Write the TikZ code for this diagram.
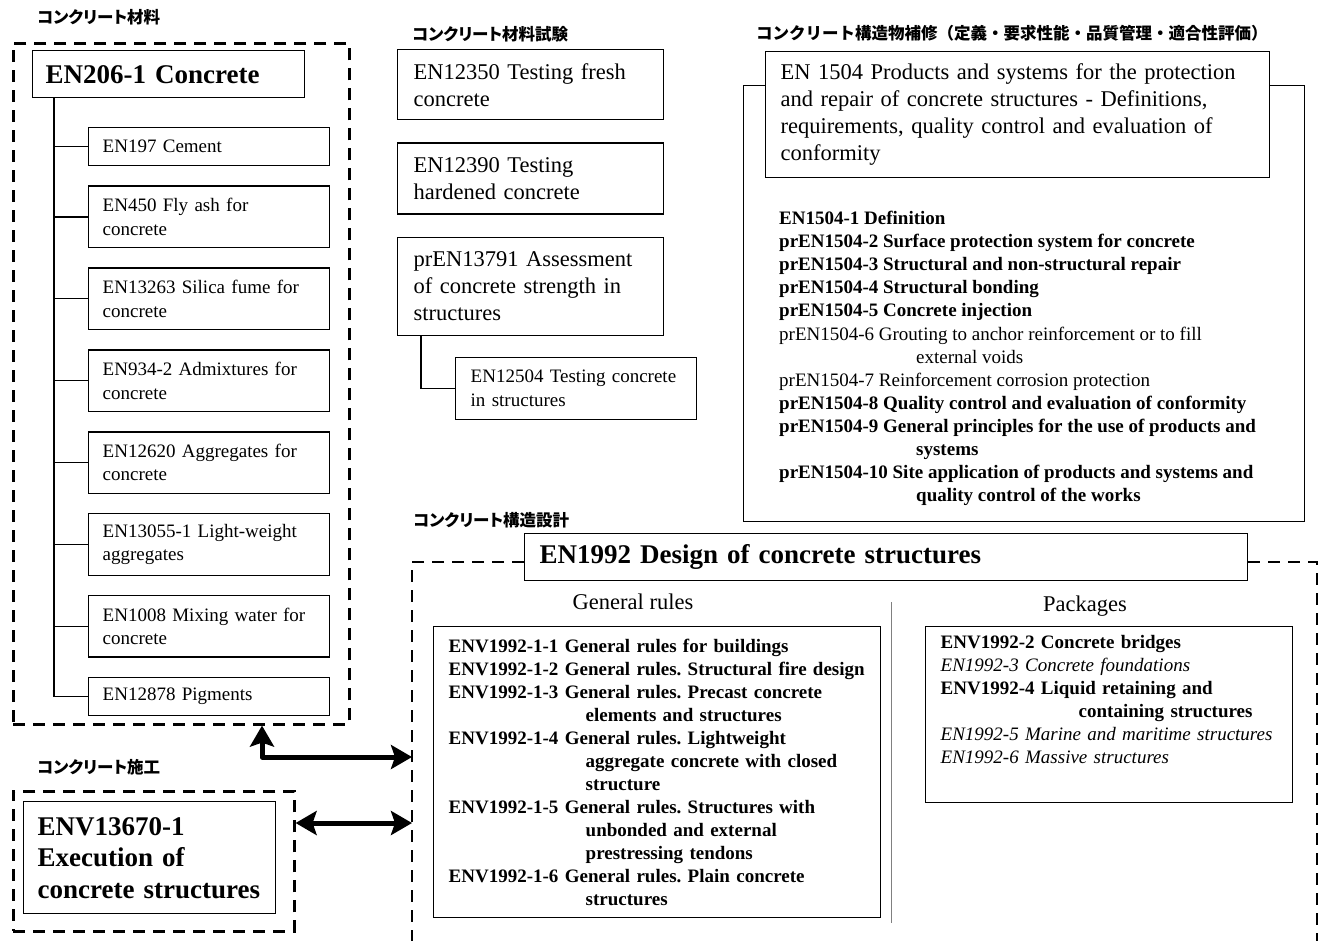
\documentclass[tikz,border=0pt]{standalone}
\usepackage{fontspec}
\setmainfont{Liberation Serif}
\newfontfamily\jpfont{Noto Sans CJK JP}
\newfontfamily\jppfont[RawFeature=+palt]{Noto Sans CJK JP}
\usepackage{tikz}
\usetikzlibrary{arrows.meta, positioning}
\frenchspacing
\hyphenpenalty=10000
\exhyphenpenalty=10000

\begin{document}
\begin{tikzpicture}[x=1pt, y=-1pt, node distance=19pt]
        \tikzstyle{groupbox} = [draw, line width=2.6pt, dash pattern=on 12pt off 8pt]
        \tikzstyle{titlebox} = [draw, line width=1.4pt, anchor=north west, align=left, inner xsep=13pt, inner ysep=3pt, font=\fontsize{27}{31.5}\selectfont\bfseries]
        \tikzstyle{itembox} = [draw, line width=1.4pt, anchor=north west, align=left, text width=213pt, inner xsep=14pt, inner ysep=3pt, minimum height=61.5pt, font=\fontsize{19}{23.5}\selectfont]
        \tikzstyle{testbox} = [draw, line width=1.4pt, anchor=north west, align=left, text width=234pt, inner xsep=16pt, inner ysep=3pt, font=\fontsize{22.5}{27}\selectfont]
        \tikzstyle{listbox} = [draw, line width=1.4pt, anchor=north west, align=left, inner xsep=15pt, inner ysep=3pt, font=\fontsize{19}{23}\selectfont]
        \tikzstyle{headtext} = [inner sep=0pt, font=\fontsize{22.5}{27}\selectfont]
        \tikzstyle{jplabel} = [anchor=west, inner sep=0pt, font=\jppfont\bfseries\fontsize{16.5}{18}\selectfont]
        \tikzstyle{branch} = [line width=1.3pt]
        \tikzstyle{divider} = [line width=1pt, gray]
        \tikzstyle{bigarrow} = [line width=5pt, line join=round, {Stealth[length=21pt,width=24pt,inset=4pt]}-{Stealth[length=21pt,width=24pt,inset=4pt]}]

        \useasboundingbox (0,0) rectangle (1321,940);

        % materials
        \node (matlabel) [jplabel] at (37,17) {コンクリート材料};
        \node (matgroup) [groupbox, anchor=north west, inner sep=0pt, minimum width=336pt, minimum height=681pt] at (12,42) {};
        \node (concrete) [titlebox, text width=246pt, minimum height=47pt] at (32,50) {EN206-1 Concrete};
        \node (cement) [itembox, minimum height=38pt] at (88,127) {EN197 Cement};
        \node (flyash) [itembox, below=of cement] {EN450 Fly ash for\\concrete};
        \node (silica) [itembox, below=of flyash] {EN13263 Silica fume for\\concrete};
        \node (admix) [itembox, below=of silica] {EN934-2 Admixtures for\\concrete};
        \node (aggregate) [itembox, below=of admix] {EN12620 Aggregates for\\concrete};
        \node (lightweight) [itembox, below=of aggregate] {EN13055-1 Light-weight\\aggregates};
        \node (mixing) [itembox, below=of lightweight] {EN1008 Mixing water for\\concrete};
        \node (pigments) [itembox, below=of mixing, minimum height=38pt] {EN12878 Pigments};

        \coordinate (trunk) at ([xshift=22pt]concrete.south west);
        \draw [branch] (trunk) |- (pigments.west);
        \foreach \n in {cement, flyash, silica, admix, aggregate, lightweight, mixing}
            \draw [branch] (trunk |- \n.west) -- (\n.west);

        % testing
        \node (testlabel) [jplabel] at (412,34) {コンクリート材料試験};
        \node (fresh) [testbox, minimum height=70pt] at (397,49) {EN12350 Testing fresh\\concrete};
        \node (hardened) [testbox, below=22pt of fresh, minimum height=71pt] {EN12390 Testing\\hardened concrete};
        \node (strength) [testbox, below=22pt of hardened, minimum height=98pt] {prEN13791 Assessment\\of concrete strength in\\structures};
        \node (insitu) [itembox, text width=211pt, inner xsep=15pt] at (455,357) {EN12504 Testing concrete\\in structures};
        \draw [branch] ([xshift=24pt]strength.south west) |- (insitu.west);

        % repair
        \node (repairlabel) [jplabel, font=\jpfont\bfseries\fontsize{16.5}{18}\selectfont] at (756,33) {コンクリート構造物補修（定義・要求性能・品質管理・適合性評価）};
        \node (repairgroup) [draw, line width=1.4pt, anchor=north west, inner sep=0pt, minimum width=561pt, minimum height=436pt] at (743,85) {};
        \node (repair) [testbox, fill=white, text width=474pt, inner xsep=15pt, minimum height=126pt] at (765,51) {EN 1504 Products and systems for the protection\\and repair of concrete structures - Definitions,\\requirements, quality control and evaluation of\\conformity};
        \node (parts) [anchor=north west, align=left, inner sep=0pt, font=\fontsize{19}{23.1}\selectfont] at (779,211) {%
            \textbf{EN1504-1 Definition}\\
            \textbf{prEN1504-2 Surface protection system for concrete}\\
            \textbf{prEN1504-3 Structural and non-structural repair}\\
            \textbf{prEN1504-4 Structural bonding}\\
            \textbf{prEN1504-5 Concrete injection}\\
            prEN1504-6 Grouting to anchor reinforcement or to fill\\
            \hspace*{137pt}external voids\\
            prEN1504-7 Reinforcement corrosion protection\\
            \textbf{prEN1504-8 Quality control and evaluation of conformity}\\
            \textbf{prEN1504-9 General principles for the use of products and}\\
            \hspace*{137pt}\textbf{systems}\\
            \textbf{prEN1504-10 Site application of products and systems and}\\
            \hspace*{137pt}\textbf{quality control of the works}};

        % design
        \node (designlabel) [jplabel] at (413,520) {コンクリート構造設計};
        \node (design) [titlebox, fill=white, text width=693pt, inner xsep=15pt, minimum height=47pt] at (524,533) {EN1992 Design of concrete structures};
        \coordinate (dleft) at (412,562);
        \coordinate (dright) at (1317,562);
        \draw [groupbox] (design.west |- dleft) -- (dleft) -- (dleft |- 0,945);
        \draw [groupbox] (design.east |- dright) -- (dright) -- (dright |- 0,945);

        \node (rulehead) [headtext] at (633,602) {General rules};
        \node (packhead) [headtext] at (1085,606) {Packages};
        \draw [divider] (891,602) -- (891,923);

        \node (rules) [listbox, text width=417pt, minimum height=291pt] at (433,626) {%
            \textbf{ENV1992-1-1 General rules for buildings}\\
            \textbf{ENV1992-1-2 General rules. Structural fire design}\\
            \textbf{ENV1992-1-3 General rules. Precast concrete}\\
            \hspace*{137pt}\textbf{elements and structures}\\
            \textbf{ENV1992-1-4 General rules. Lightweight}\\
            \hspace*{137pt}\textbf{aggregate concrete with closed}\\
            \hspace*{137pt}\textbf{structure}\\
            \textbf{ENV1992-1-5 General rules. Structures with}\\
            \hspace*{137pt}\textbf{unbonded and external}\\
            \hspace*{137pt}\textbf{prestressing tendons}\\
            \textbf{ENV1992-1-6 General rules. Plain concrete}\\
            \hspace*{137pt}\textbf{structures}};
        \node (packages) [listbox, text width=337pt, minimum height=176pt] at (925,626) {%
            \textbf{ENV1992-2 Concrete bridges}\\
            \textit{EN1992-3 Concrete foundations}\\
            \textbf{ENV1992-4 Liquid retaining and}\\
            \hspace*{138pt}\textbf{containing structures}\\
            \textit{EN1992-5 Marine and maritime structures}\\
            \textit{EN1992-6 Massive structures}\\
            \strut};

        % execution
        \node (execlabel) [jplabel] at (37,767) {コンクリート施工};
        \node (execgroup) [groupbox, anchor=north west, inner sep=0pt, minimum width=281pt, minimum height=140pt] at (12,790) {};
        \node (execution) [titlebox, text width=224pt, inner xsep=14pt, minimum height=112pt] at (23,801) {ENV13670-1\\Execution of\\concrete structures};

        \draw [bigarrow] ([xshift=250pt]matgroup.south west) |- (dleft |- 0,757);
        \draw [bigarrow] (execgroup.east |- 0,823) -- (dleft |- 0,823);
    \end{tikzpicture}
\end{document}
